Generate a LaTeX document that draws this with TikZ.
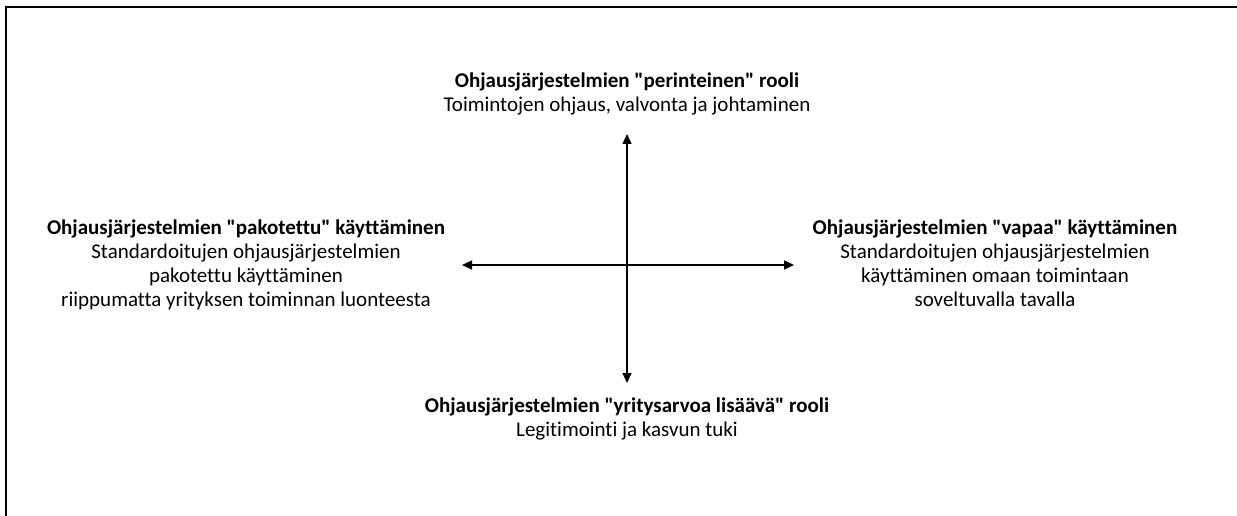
\documentclass[tikz,border=0pt]{standalone}
\usepackage{fontspec}
\setmainfont{Carlito}[Ligatures={TeXOff,CommonOff}]
\usepackage{tikz}
\usetikzlibrary{positioning,arrows.meta}

\tikzset{
  rolebox/.style={align=center, inner sep=0pt, anchor=north,
    font=\fontsize{21}{24}\selectfont},
  axis/.style={line width=1.4pt, {Triangle[length=10pt,width=9pt]}-{Triangle[length=10pt,width=9pt]}}
}

\begin{document}
\begin{tikzpicture}[x=1pt,y=-1pt]
  \useasboundingbox (0,0) rectangle (1237,516);

  % frame: only the left and top edges show
  \draw[line width=2.5pt] (6,516) -- (6,7) -- (1237,7);

  % the four roles
  \node[rolebox] (perint) at (627,73)
    {\textbf{Ohjausjärjestelmien "perinteinen" rooli}\\
     Toimintojen ohjaus, valvonta ja johtaminen};
  \node[rolebox] (pakot) at (246,220)
    {\textbf{Ohjausjärjestelmien "pakotettu" käyttäminen}\\
     Standardoitujen ohjausjärjestelmien\\
     pakotettu käyttäminen\\
     riippumatta yrityksen toiminnan luonteesta};
  \node[rolebox] (vapaa) at (995,220)
    {\textbf{Ohjausjärjestelmien "vapaa" käyttäminen}\\
     Standardoitujen ohjausjärjestelmien\\
     käyttäminen omaan toimintaan\\
     soveltuvalla tavalla};
  \node[rolebox] (yritys) at (627,398)
    {\textbf{Ohjausjärjestelmien "yritysarvoa lisäävä" rooli}\\
     Legitimointi ja kasvun tuki};

  % axes
  \coordinate (ylos) at (627,134);
  \coordinate (alas) at (627,383);
  \coordinate (vasen) at (462,265);
  \coordinate (oikea) at (794,265);
  \draw[axis] (ylos) -- (alas);
  \draw[axis] (vasen) -- (oikea);
\end{tikzpicture}
\end{document}
